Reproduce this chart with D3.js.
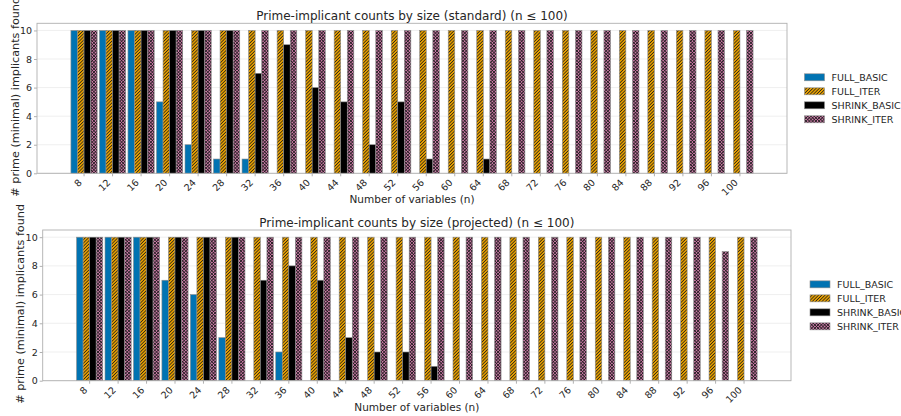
<!DOCTYPE html>
<html>
<head>
<meta charset="utf-8">
<script src="https://cdn.jsdelivr.net/npm/d3@7"></script>
<style>
  body { margin: 0; background: #fff; }
  svg { display: block; font-family: "DejaVu Sans", sans-serif; }
</style>
</head>
<body>
<div id="chart"></div>
<script>
const sizes = [8, 12, 16, 20, 24, 28, 32, 36, 40, 44, 48, 52, 56, 60, 64, 68, 72, 76, 80, 84, 88, 92, 96, 100];
const seriesNames = ["FULL_BASIC", "FULL_ITER", "SHRINK_BASIC", "SHRINK_ITER"];
const yTicks = [0, 2, 4, 6, 8, 10];

// standard
const stdFullBasic   = [10, 10, 10, 5, 2, 1, 1, 0, 0, 0, 0, 0, 0, 0, 0, 0, 0, 0, 0, 0, 0, 0, 0, 0];
const stdFullIter    = [10, 10, 10, 10, 10, 10, 10, 10, 10, 10, 10, 10, 10, 10, 10, 10, 10, 10, 10, 10, 10, 10, 10, 10];
const stdShrinkBasic = [10, 10, 10, 10, 10, 10, 7, 9, 6, 5, 2, 5, 1, 0, 1, 0, 0, 0, 0, 0, 0, 0, 0, 0];
const stdShrinkIter  = [10, 10, 10, 10, 10, 10, 10, 10, 10, 10, 10, 10, 10, 10, 10, 10, 10, 10, 10, 10, 10, 10, 10, 10];

// projected
const projFullBasic   = [10, 10, 10, 7, 6, 3, 0, 2, 0, 0, 0, 0, 0, 0, 0, 0, 0, 0, 0, 0, 0, 0, 0, 0];
const projFullIter    = [10, 10, 10, 10, 10, 10, 10, 10, 10, 10, 10, 10, 10, 10, 10, 10, 10, 10, 10, 10, 10, 10, 10, 10];
const projShrinkBasic = [10, 10, 10, 10, 10, 10, 7, 8, 7, 3, 2, 2, 1, 0, 0, 0, 0, 0, 0, 0, 0, 0, 0, 0];
const projShrinkIter  = [10, 10, 10, 10, 10, 10, 10, 10, 10, 10, 10, 10, 10, 10, 10, 10, 10, 10, 10, 10, 10, 10, 9, 10];

const width = 901, height = 416;

const svg = d3.select("#chart").append("svg")
  .attr("width", width)
  .attr("height", height);

const defs = svg.append("defs");

function makeHatch(id, color, cross) {
  const s = 2.3;
  const p = defs.append("pattern")
    .attr("id", id)
    .attr("patternUnits", "userSpaceOnUse")
    .attr("width", s)
    .attr("height", s)
    .attr("patternTransform", "rotate(45)");
  p.append("rect").attr("width", s).attr("height", s).attr("fill", color);
  p.append("line")
    .attr("x1", s / 2).attr("y1", 0).attr("x2", s / 2).attr("y2", s)
    .attr("stroke", "#1a1a1a").attr("stroke-width", 0.7);
  if (cross) {
    p.append("line")
      .attr("x1", 0).attr("y1", s / 2).attr("x2", s).attr("y2", s / 2)
      .attr("stroke", "#1a1a1a").attr("stroke-width", 0.7);
  }
}
makeHatch("hatchDiag", "#e69f00", false);
makeHatch("hatchCross", "#cc79a7", true);

const fills = {
  FULL_BASIC: "#0173b2",
  FULL_ITER: "url(#hatchDiag)",
  SHRINK_BASIC: "#000000",
  SHRINK_ITER: "url(#hatchCross)"
};

const panels = [
  {
    title: "Prime-implicant counts by size (standard) (n \u2264 100)",
    values: [stdFullBasic, stdFullIter, stdShrinkBasic, stdShrinkIter],
    left: 37, right: 787, top: 23.3, bottom: 173.3, legendGap: 17.5
  },
  {
    title: "Prime-implicant counts by size (projected) (n \u2264 100)",
    values: [projFullBasic, projFullIter, projShrinkBasic, projShrinkIter],
    left: 42.7, right: 791, top: 230, bottom: 380.7, legendGap: 19
  }
];

panels.forEach(p => {
  const w = p.right - p.left;
  const h = p.bottom - p.top;
  const g = svg.append("g").attr("transform", `translate(${p.left},${p.top})`);

  const x = d3.scaleBand()
    .domain(sizes)
    .range([0, w])
    .paddingInner(0)
    .paddingOuter(1.15);

  const barW = x.step() * 0.23;
  const xs = d3.scaleBand()
    .domain(seriesNames)
    .range([-2 * barW, 2 * barW]);

  const y = d3.scaleLinear().domain([0, 10.5]).range([h, 0]);

  // grid
  g.append("g")
    .selectAll("line")
    .data(yTicks)
    .join("line")
    .attr("x1", 0).attr("x2", w)
    .attr("y1", d => y(d)).attr("y2", d => y(d))
    .attr("stroke", "#ebebeb")
    .attr("stroke-width", 0.8);

  // bars
  seriesNames.forEach((name, si) => {
    const rows = sizes.map((n, i) => ({ n: n, v: p.values[si][i] }));
    g.append("g")
      .selectAll("rect")
      .data(rows)
      .join("rect")
      .attr("x", d => x(d.n) + x.bandwidth() / 2 + xs(name))
      .attr("width", xs.bandwidth())
      .attr("y", d => y(d.v))
      .attr("height", d => h - y(d.v))
      .attr("fill", fills[name])
      .attr("stroke", "#8c8c8c")
      .attr("stroke-width", 0.6);
  });

  // frame
  g.append("rect")
    .attr("width", w).attr("height", h)
    .attr("fill", "none")
    .attr("stroke", "#b0b0b0")
    .attr("stroke-width", 0.9);

  // y axis
  const yAxis = g.append("g")
    .call(d3.axisLeft(y).tickValues(yTicks).tickSize(3).tickPadding(2));
  yAxis.select(".domain").remove();
  yAxis.selectAll(".tick line").attr("stroke", "#b0b0b0");
  yAxis.selectAll("text")
    .attr("font-size", 9.5)
    .attr("font-family", "DejaVu Sans")
    .attr("fill", "#262626");

  // x axis
  const xAxis = g.append("g")
    .attr("transform", `translate(0,${h})`)
    .call(d3.axisBottom(x).tickSize(3));
  xAxis.select(".domain").remove();
  xAxis.selectAll(".tick line").attr("stroke", "#b0b0b0");
  xAxis.selectAll("text")
    .attr("y", 0)
    .attr("dy", 0)
    .attr("text-anchor", "end")
    .attr("transform", "translate(-1.5,10) rotate(-45)")
    .attr("font-size", 9.5)
    .attr("font-family", "DejaVu Sans")
    .attr("fill", "#262626");

  // title
  svg.append("text")
    .attr("x", (p.left + p.right) / 2)
    .attr("y", p.top - 3.5)
    .attr("text-anchor", "middle")
    .attr("font-size", 12)
    .attr("fill", "#262626")
    .text(p.title);

  // x label
  svg.append("text")
    .attr("x", (p.left + p.right) / 2)
    .attr("y", p.bottom + 30)
    .attr("text-anchor", "middle")
    .attr("font-size", 10.5)
    .attr("fill", "#262626")
    .text("Number of variables (n)");

  // y label
  svg.append("text")
    .attr("transform", `translate(${p.left - 18.5},${(p.top + p.bottom) / 2 - 1.5}) rotate(-90)`)
    .attr("text-anchor", "middle")
    .attr("font-size", 11.2)
    .attr("fill", "#262626")
    .text("# prime (minimal) implicants found");

  // legend
  const cy = (p.top + p.bottom) / 2;
  const leg = svg.append("g")
    .attr("transform", `translate(${p.right + p.legendGap},${cy})`);
  seriesNames.forEach((name, i) => {
    const ry = (i - 1.5) * 14;
    leg.append("rect")
      .attr("x", 0).attr("y", ry - 3.5)
      .attr("width", 20).attr("height", 7)
      .attr("fill", fills[name])
      .attr("stroke", "#8c8c8c")
      .attr("stroke-width", 0.6);
    leg.append("text")
      .attr("x", 27).attr("y", ry)
      .attr("dy", "0.35em")
      .attr("font-size", 9.5)
      .attr("fill", "#262626")
      .text(name);
  });
});
</script>
</body>
</html>
